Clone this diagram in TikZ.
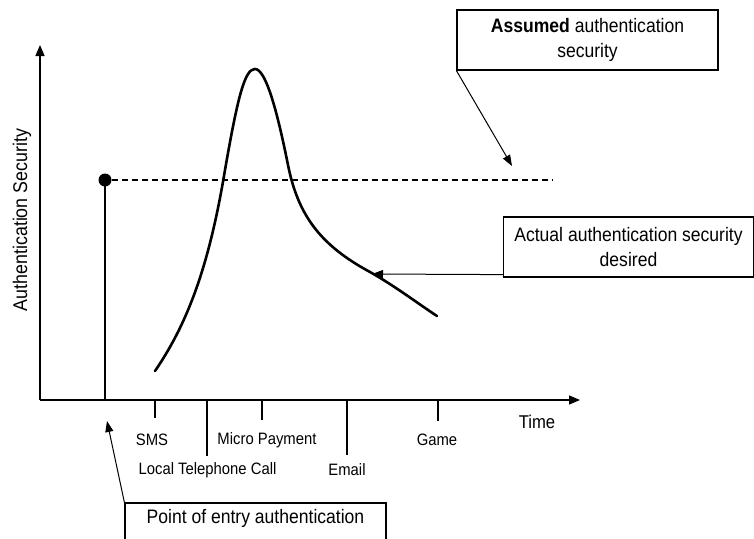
\documentclass[tikz,border=0pt]{standalone}
\usepackage{fontspec}
\setmainfont{Liberation Sans}[FakeStretch=0.9]
\usetikzlibrary{arrows.meta}
\begin{document}
\begin{tikzpicture}[x=1pt,y=-1pt,
  axis/.style={line width=1.3pt,-{Triangle[length=11pt,width=9pt]}},
  boxlabel/.style={draw,line width=1.2pt,align=center,inner sep=0pt,minimum height=60pt,
    font=\fontsize{19.5}{25}\selectfont},
  pointer/.style={line width=1pt,-{Triangle[length=11pt,width=8pt]}},
  ticklabel/.style={font=\fontsize{16.5}{18}\selectfont,inner sep=0pt},
  tickmark/.style={line width=1.1pt},
  curve/.style={line width=2.6pt,line cap=round}]
\useasboundingbox (0,0) rectangle (754,538);
\clip (0,0) rectangle (754,538);
\fill[white] (0,0) rectangle (754,538);
% axes
\coordinate (origin) at (40,400);
\coordinate (ytop) at (40,45);
\coordinate (xend) at (580,400);
\draw[axis] (origin) -- (ytop);
\draw[axis] (origin) -- (xend);
\node[font=\fontsize{19.8}{22}\selectfont,rotate=90,inner sep=0pt] (ylabel) at (22,220) {Authentication Security};
\node[font=\fontsize{18.5}{20}\selectfont,inner sep=0pt] (timelabel) at (537,422) {Time};
% point of entry
\coordinate (entrybase) at (105,400);
\node[circle,fill=black,inner sep=0pt,minimum size=13pt] (dot) at (105,180) {};
\draw[line width=1.1pt] (entrybase) -- (dot.center);
\coordinate (dashend) at (553,180);
\draw[line width=1.1pt,dash pattern=on 6pt off 4pt] (dot) -- (dashend);
% curve
\coordinate (cstart) at (155,371);
\coordinate (cleft) at (225,170);
\coordinate (cpeak) at (255,69);
\coordinate (cright) at (288,165);
\coordinate (cknee) at (370,272);
\coordinate (cend) at (437,316);
\draw[curve] (cstart) .. controls (190,320) and (210,260) .. (cleft)
  .. controls (238,95) and (245,69) .. (cpeak)
  .. controls (265,69) and (276,105) .. (cright)
  .. controls (298,215) and (320,245) .. (cknee)
  .. controls (395,286) and (420,305) .. (cend);
% ticks
\foreach \n/\x/\len in {sms/155/418,ltc/207/456,mp/262/420,email/347/455,game/438/421}{
  \coordinate (\n top) at (\x,400);
  \coordinate (\n bot) at (\x,\len);
  \draw[tickmark] (\n top) -- (\n bot);
}
\node[ticklabel] (smslabel) at (152,440) {SMS};
\node[ticklabel] (mplabel) at (267,440) {Micro Payment};
\node[ticklabel] (gamelabel) at (437,440) {Game};
\node[ticklabel] (ltclabel) at (207.5,470) {Local Telephone Call};
\node[ticklabel] (emaillabel) at (347,470) {Email};
% boxes
\node[boxlabel,minimum width=261pt] (assumedbox) at (587.5,40) {\textbf{Assumed} authentication\\security};
\node[boxlabel,minimum width=250pt] (actualbox) at (628.5,247) {Actual authentication security\\desired};
\node[boxlabel,minimum width=261pt] (pointbox) at (255.5,533) {Point of entry authentication\\\strut};
% pointers
\coordinate (assumedtip) at (512,166);
\coordinate (actualtip) at (372,274);
\coordinate (pointtip) at (107,421);
\draw[pointer] (assumedbox.south west) -- (assumedtip);
\draw[pointer] ([yshift=3pt]actualbox.south west) -- (actualtip);
\draw[pointer] (pointbox.north west) -- (pointtip);
\end{tikzpicture}
\end{document}
